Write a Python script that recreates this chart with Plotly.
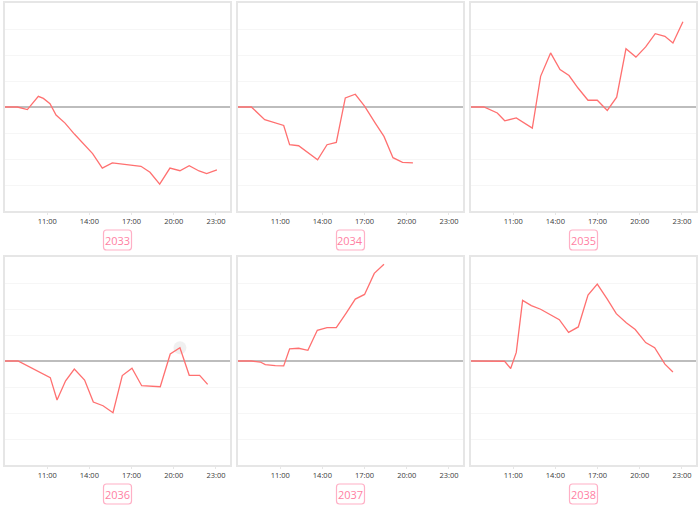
import plotly.graph_objects as go

# ---- data (hours of day, relative value) ----
labels = ["2033", "2034", "2035", "2036", "2037", "2038"]

x_2033 = [8.0, 8.88, 9.59, 10.37, 10.73, 11.2, 11.63, 12.27, 12.95, 13.6, 14.23, 14.92, 15.63, 17.67, 18.31, 19.0, 19.73, 20.44, 21.1, 21.8, 22.34, 23.07]
y_2033 = [0, 0, -0.10, 0.41, 0.33, 0.13, -0.31, -0.62, -1.05, -1.44, -1.79, -2.35, -2.15, -2.28, -2.51, -2.97, -2.35, -2.45, -2.26, -2.46, -2.56, -2.42]

x_2034 = [8.0, 8.95, 9.9, 11.25, 11.67, 12.31, 13.66, 14.33, 14.99, 15.63, 16.34, 17.0, 17.76, 18.38, 19.02, 19.7, 20.44]
y_2034 = [0, 0, -0.49, -0.71, -1.45, -1.49, -2.03, -1.45, -1.36, 0.35, 0.49, 0.03, -0.62, -1.13, -1.95, -2.13, -2.15]

x_2035 = [8.0, 8.92, 9.87, 10.4, 11.22, 12.36, 12.95, 13.66, 14.33, 14.97, 15.61, 16.32, 16.98, 17.69, 18.36, 19.02, 19.73, 20.42, 21.1, 21.79, 22.36, 23.07]
y_2035 = [0, 0, -0.23, -0.53, -0.42, -0.81, 1.18, 2.08, 1.44, 1.21, 0.73, 0.26, 0.26, -0.13, 0.38, 2.24, 1.92, 2.31, 2.82, 2.72, 2.46, 3.28]

x_2036 = [8.0, 8.92, 11.22, 11.7, 12.31, 12.93, 13.66, 14.28, 14.97, 15.68, 16.34, 17.03, 17.72, 19.04, 19.75, 20.44, 21.1, 21.84, 22.41]
y_2036 = [0, 0, -0.64, -1.50, -0.76, -0.31, -0.73, -1.58, -1.72, -1.99, -0.56, -0.28, -0.95, -0.99, 0.27, 0.51, -0.55, -0.55, -0.90]

x_2037 = [8.0, 8.95, 9.59, 9.94, 10.65, 11.25, 11.67, 12.31, 12.97, 13.64, 14.33, 14.99, 15.68, 16.34, 17.0, 17.69, 18.38]
y_2037 = [0, 0, -0.04, -0.14, -0.18, -0.19, 0.47, 0.49, 0.41, 1.18, 1.28, 1.28, 1.83, 2.38, 2.56, 3.37, 3.72]

x_2038 = [8.0, 10.39, 10.82, 11.22, 11.67, 12.29, 12.95, 13.66, 14.28, 14.94, 15.63, 16.32, 16.98, 17.69, 18.33, 19.04, 19.68, 20.42, 21.06, 21.79, 22.36]
y_2038 = [0, -0.01, -0.29, 0.33, 2.33, 2.13, 1.99, 1.78, 1.59, 1.10, 1.31, 2.54, 2.96, 2.38, 1.82, 1.47, 1.21, 0.71, 0.51, -0.12, -0.42]

xs = [x_2033, x_2034, x_2035, x_2036, x_2037, x_2038]
ys = [y_2033, y_2034, y_2035, y_2036, y_2037, y_2038]

tick_vals = [11, 14, 17, 20, 23]
tick_text = ["11:00", "14:00", "17:00", "20:00", "23:00"]

highlight_panel = 3
highlight_index = 15

# ---- layout geometry (pixels) ----
W, H = 700, 507
col_px = [(5, 230), (238, 463), (471, 696)]
row_px = [(3, 211), (257, 465)]

LINE = "#ff7070"
PINK = "#ff7fa3"
PINK_BORDER = "#ffb0c6"

fig = go.Figure()
layout = dict(
    width=W, height=H,
    margin=dict(l=0, r=0, t=0, b=0),
    paper_bgcolor="white", plot_bgcolor="white",
    showlegend=False,
    font=dict(family="Open Sans, DejaVu Sans, sans-serif"),
    annotations=[], shapes=[],
)


def rounded_rect(x0, y0, x1, y1, rad):
    # pixel coords (top-left origin) -> paper path
    def P(x, y):
        return f"{x / W:.5f},{1 - y / H:.5f}"
    return (f"M {P(x0 + rad, y0)} L {P(x1 - rad, y0)} Q {P(x1, y0)} {P(x1, y0 + rad)} "
            f"L {P(x1, y1 - rad)} Q {P(x1, y1)} {P(x1 - rad, y1)} "
            f"L {P(x0 + rad, y1)} Q {P(x0, y1)} {P(x0, y1 - rad)} "
            f"L {P(x0, y0 + rad)} Q {P(x0, y0)} {P(x0 + rad, y0)} Z")


for i in range(6):
    r, c = divmod(i, 3)
    n = i + 1
    xa = "xaxis" if n == 1 else f"xaxis{n}"
    ya = "yaxis" if n == 1 else f"yaxis{n}"
    xr = "x" if n == 1 else f"x{n}"
    yr = "y" if n == 1 else f"y{n}"
    x0, x1 = col_px[c]
    y0, y1 = row_px[r]
    layout[xa] = dict(
        domain=[x0 / W, x1 / W], anchor=yr, range=[8, 24],
        tickmode="array", tickvals=tick_vals, ticktext=tick_text,
        showgrid=False, zeroline=False,
        showline=True, mirror=True, linecolor="#e6e6e6", linewidth=1.5,
        ticks="outside", ticklen=2, tickcolor="#e6e6e6",
        tickfont=dict(size=7.5, color="#3a3a3a"),
        fixedrange=True,
    )
    layout[ya] = dict(
        domain=[1 - y1 / H, 1 - y0 / H], anchor=xr, range=[-4, 4],
        dtick=1, tick0=0, showticklabels=False,
        showgrid=True, gridcolor="#f6f6f6", gridwidth=1,
        zeroline=True, zerolinecolor="#bdbdbd", zerolinewidth=1.5,
        showline=True, mirror=True, linecolor="#e6e6e6", linewidth=1.5,
        ticks="", fixedrange=True,
    )
    if i == highlight_panel:
        fig.add_trace(go.Scatter(
            x=[xs[i][highlight_index]], y=[ys[i][highlight_index]],
            mode="markers", marker=dict(size=13, color="rgba(205,205,205,0.3)"),
            xaxis=xr, yaxis=yr, hoverinfo="skip",
        ))
    fig.add_trace(go.Scatter(
        x=xs[i], y=ys[i], mode="lines",
        line=dict(color=LINE, width=1.3),
        xaxis=xr, yaxis=yr, hoverinfo="skip",
    ))
    cx = (x0 + x1) / 2
    cy = y1 + 29
    layout["shapes"].append(dict(
        type="path", xref="paper", yref="paper",
        path=rounded_rect(cx - 14, cy - 10, cx + 14, cy + 10, 3),
        line=dict(color=PINK_BORDER, width=1.2), fillcolor="white",
    ))
    layout["annotations"].append(dict(
        text=labels[i], x=cx / W, y=1 - cy / H, xref="paper", yref="paper",
        showarrow=False, font=dict(size=11, color=PINK, weight=500),
        xanchor="center", yanchor="middle",
    ))

fig.update_layout(**layout)
fig.write_html("out.html", config={"displayModeBar": False},
               post_script="document.body.style.margin='0';document.body.style.overflow='hidden';")
